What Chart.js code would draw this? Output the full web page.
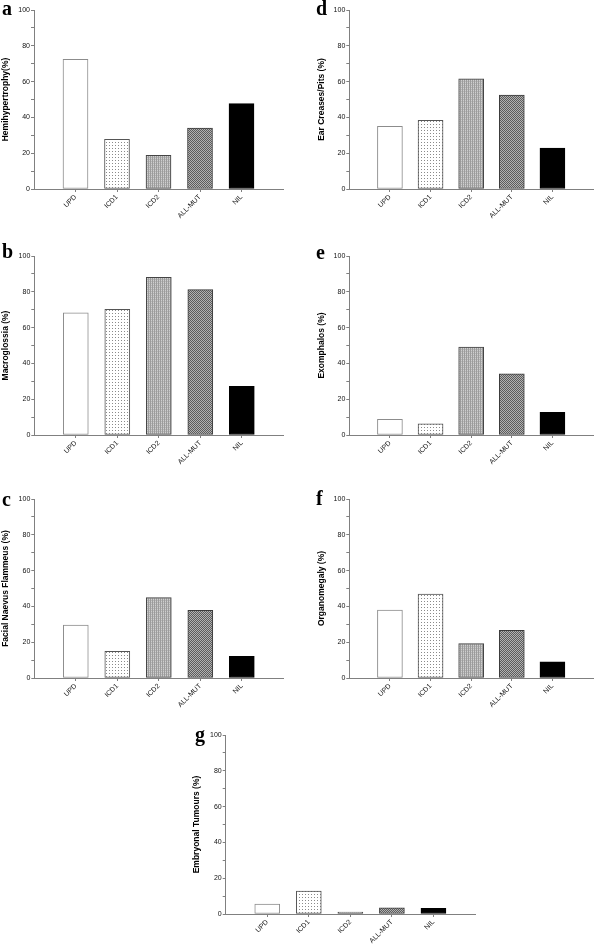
<!DOCTYPE html>
<html>
<head>
<meta charset="utf-8">
<script src="https://cdn.jsdelivr.net/npm/chart.js@4"></script>
<style>
  html, body { margin: 0; padding: 0; background: #fff; width: 600px; height: 944px; overflow: hidden; position: relative; }
  canvas { position: absolute; }
  .letter { position: absolute; font-family: "Liberation Serif", "DejaVu Serif", serif; font-weight: bold; font-size: 20px; line-height: 1; color: #000; }
</style>
</head>
<body>
<script>
// ---- data ----
const categories = ['UPD', 'ICD1', 'ICD2', 'ALL-MUT', 'NIL'];
const hemihypertrophy = [72.5, 27.8, 18.8, 34.0, 47.7];
const macroglossia = [68.3, 70.2, 88.1, 81.2, 27.2];
const facialNaevus = [29.6, 14.9, 44.9, 37.8, 12.1];
const earCreases = [35.0, 38.4, 61.6, 52.4, 22.8];
const exomphalos = [8.7, 6.3, 49.1, 34.2, 12.7];
const organomegaly = [38.0, 46.9, 19.2, 26.6, 9.1];
const embryonalTumours = [5.6, 12.8, 1.1, 3.4, 3.2];
const yTickStep = 10;
const yMax = 100;

// ---- patterns ----
function makePattern(w, h, draw) {
  const c = document.createElement('canvas');
  c.width = w; c.height = h;
  const g = c.getContext('2d');
  draw(g);
  return g.createPattern(c, 'repeat');
}
const dotPattern = makePattern(3, 3, g => {
  g.fillStyle = '#ffffff'; g.fillRect(0, 0, 3, 3);
  g.fillStyle = '#8a8a8a'; g.fillRect(1, 1, 1, 1);
});
const stripePattern = makePattern(2, 2, g => {
  g.fillStyle = '#9c9c9c'; g.fillRect(0, 0, 1, 2);
  g.fillStyle = '#cfcfcf'; g.fillRect(1, 0, 1, 2);
  g.fillStyle = '#b5b5b5'; g.fillRect(1, 1, 1, 1);
});
const checkPattern = makePattern(2, 2, g => {
  g.fillStyle = '#5c5c5c'; g.fillRect(0, 0, 2, 2);
  g.fillStyle = '#b2b2b2'; g.fillRect(1, 0, 1, 1); g.fillRect(0, 1, 1, 1);
});
const fills = ['#ffffff', dotPattern, stripePattern, checkPattern, '#000000'];
const borders = ['#8c8c8c', '#555555', '#444444', '#3a3a3a', '#000000'];

// ---- panels (layout only) ----
const panels = [
  { letter: 'a', title: 'Hemihypertrophy(%)', data: hemihypertrophy, cx: 0, plotTop: 10, axisX: 34, right: 283, titleX: 6, lx: 2, base: 15 },
  { letter: 'b', title: 'Macroglossia (%)', data: macroglossia, cx: 0, plotTop: 255.7, axisX: 34.3, right: 283.3, titleX: 6, lx: 2, base: 258 },
  { letter: 'c', title: 'Facial Naevus Flammeus (%)', data: facialNaevus, cx: 0, plotTop: 499.3, axisX: 34.3, right: 283.3, titleX: 6, lx: 2, base: 506 },
  { letter: 'd', title: 'Ear Creases/Pits (%)', data: earCreases, cx: 300, plotTop: 10.3, axisX: 349.3, right: 598.3, titleX: 321.5, lx: 316, base: 15 },
  { letter: 'e', title: 'Exomphalos (%)', data: exomphalos, cx: 300, plotTop: 255.7, axisX: 349.3, right: 598.3, titleX: 321.5, lx: 316, base: 259 },
  { letter: 'f', title: 'Organomegaly (%)', data: organomegaly, cx: 300, plotTop: 499.3, axisX: 349.3, right: 598.3, titleX: 321.5, lx: 316, base: 505 },
  { letter: 'g', title: 'Embryonal Tumours (%)', data: embryonalTumours, cx: 190, plotTop: 735, axisX: 225.7, right: 475, titleX: 197, lx: 195, base: 741 }
];

const CW = 300, CH = 230, PADTOP = 10, PLOTH = 179;
const axisColor = '#808080';
const textColor = '#111111';
const tickFont = { family: 'Arial, "Liberation Sans", sans-serif', size: 7 };

panels.forEach(p => {
  const canvas = document.createElement('canvas');
  canvas.width = CW; canvas.height = CH;
  canvas.style.left = p.cx + 'px';
  canvas.style.top = (p.plotTop - PADTOP) + 'px';
  canvas.style.width = CW + 'px'; canvas.style.height = CH + 'px';
  document.body.appendChild(canvas);

  const letter = document.createElement('div');
  letter.className = 'letter';
  letter.textContent = p.letter;
  letter.style.left = p.lx + 'px';
  letter.style.top = (p.base - 16.75) + 'px';
  document.body.appendChild(letter);

  const padLeft = p.titleX - p.cx - 5.1;
  const yWidth = (p.axisX - p.cx) - padLeft;
  const padRight = CW - (p.right - p.cx);
  const xHeight = CH - PADTOP - PLOTH;

  new Chart(canvas, {
    type: 'bar',
    data: {
      labels: ['', ...categories, ''],
      datasets: [{
        data: [null, ...p.data, null],
        backgroundColor: ['#fff', ...fills, '#fff'],
        borderColor: ['#fff', ...borders, '#fff'],
        borderWidth: 1,
        barThickness: 25,
        borderSkipped: false
      }]
    },
    options: {
      responsive: false,
      devicePixelRatio: 1,
      animation: false,
      events: [],
      layout: { padding: { top: PADTOP, left: padLeft, right: padRight, bottom: 0 } },
      plugins: { legend: { display: false }, tooltip: { enabled: false }, title: { display: false } },
      scales: {
        x: {
          type: 'category',
          offset: false,
          grid: {
            display: true, drawOnChartArea: false, drawTicks: true, tickLength: 3, offset: false,
            tickColor: ctx => (ctx.tick && ctx.tick.label) ? axisColor : 'rgba(0,0,0,0)'
          },
          border: { display: true, color: axisColor, width: 1 },
          ticks: {
            autoSkip: false, maxRotation: 45, minRotation: 45, padding: 1,
            font: tickFont, color: textColor
          },
          afterFit: s => { s.height = xHeight; }
        },
        y: {
          min: 0, max: yMax,
          grid: { display: true, drawOnChartArea: false, drawTicks: true, tickLength: 3, color: axisColor },
          border: { display: true, color: axisColor, width: 1 },
          ticks: {
            stepSize: yTickStep, padding: 1, font: tickFont, color: textColor,
            callback: v => (v % 20 === 0 ? String(v) : '')
          },
          title: {
            display: true, text: p.title, color: '#000', padding: 0,
            font: { family: 'Arial, "Liberation Sans", sans-serif', size: 8.5, weight: 'bold' }
          },
          afterFit: s => { s.width = yWidth; }
        }
      }
    }
  });
});
</script>
</body>
</html>
